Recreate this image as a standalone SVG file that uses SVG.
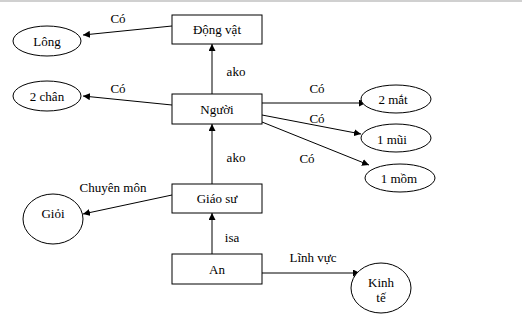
<svg xmlns="http://www.w3.org/2000/svg" width="522" height="325" viewBox="0 0 522 325">
<style>
.n{fill:#fff;stroke:#000;stroke-width:1}
.t{font-family:"Liberation Serif","Times New Roman",serif;font-size:13px;fill:#000;text-anchor:middle;dominant-baseline:central}
.c{stroke:#000;stroke-width:1;fill:none;marker-end:url(#a)}
</style>
<defs>
<marker id="a" viewBox="0 0 10 10" refX="10" refY="5" markerWidth="7" markerHeight="7" orient="auto" markerUnits="userSpaceOnUse">
<path d="M0,0 L10,5 L0,10 z" fill="#000"/>
</marker>
</defs>
<rect x="0" y="0" width="522" height="325" fill="#fff"/>
<line x1="0" y1="1" x2="522" y2="1" stroke="#d0d0d0" stroke-width="2"/>
<g id="connectors">
<line class="c" x1="172" y1="26" x2="83" y2="35"/>
<line class="c" x1="172" y1="105" x2="83" y2="96"/>
<line class="c" x1="212" y1="94" x2="212" y2="44"/>
<line class="c" x1="212" y1="184" x2="212" y2="124"/>
<line class="c" x1="212" y1="254" x2="212" y2="213"/>
<line class="c" x1="172" y1="195" x2="83" y2="214"/>
<line class="c" x1="262" y1="273" x2="360" y2="273"/>
<line class="c" x1="262" y1="103" x2="366" y2="103"/>
<line class="c" x1="262" y1="115" x2="361" y2="134"/>
<line class="c" x1="262" y1="122" x2="369" y2="165"/>
<text class="t" x="118" y="18">Có</text>
<text class="t" x="118" y="88">Có</text>
<text class="t" x="236" y="71">ako</text>
<text class="t" x="236" y="157">ako</text>
<text class="t" x="232" y="237">isa</text>
<text class="t" x="113" y="187">Chuyên môn</text>
<text class="t" x="313" y="257">Lĩnh vực</text>
<text class="t" x="317" y="88">Có</text>
<text class="t" x="317" y="118">Có</text>
<text class="t" x="307" y="158">Có</text>
</g>
<g id="dongvat"><rect class="n" x="172" y="15" width="90" height="29"/><text class="t" x="217" y="29">Động vật</text></g>
<g id="nguoi"><rect class="n" x="172" y="94" width="90" height="30"/><text class="t" x="217" y="109">Người</text></g>
<g id="giaosu"><rect class="n" x="172" y="184" width="90" height="29"/><text class="t" x="217" y="198">Giáo sư</text></g>
<g id="an"><rect class="n" x="172" y="254" width="90" height="30"/><text class="t" x="217" y="269">An</text></g>
<g id="long"><ellipse class="n" cx="47" cy="41" rx="34" ry="15"/><text class="t" x="47" y="41">Lông</text></g>
<g id="2chan"><ellipse class="n" cx="47" cy="96" rx="34" ry="15"/><text class="t" x="47" y="96">2 chân</text></g>
<g id="gioi"><ellipse class="n" cx="53" cy="219" rx="30" ry="25"/><text class="t" x="53" y="213">Giỏi</text></g>
<g id="2mat"><ellipse class="n" cx="396" cy="99" rx="35" ry="14"/><text class="t" x="393" y="99">2 mắt</text></g>
<g id="1mui"><ellipse class="n" cx="396" cy="138" rx="35" ry="14"/><text class="t" x="392" y="139">1 mũi</text></g>
<g id="1mom"><ellipse class="n" cx="400" cy="178" rx="35" ry="14"/><text class="t" x="399" y="178">1 mồm</text></g>
<g id="kinhte"><ellipse class="n" cx="381" cy="288" rx="30" ry="25"/><text class="t" x="381" y="282">Kinh</text><text class="t" x="381" y="297">tế</text></g>
</svg>
